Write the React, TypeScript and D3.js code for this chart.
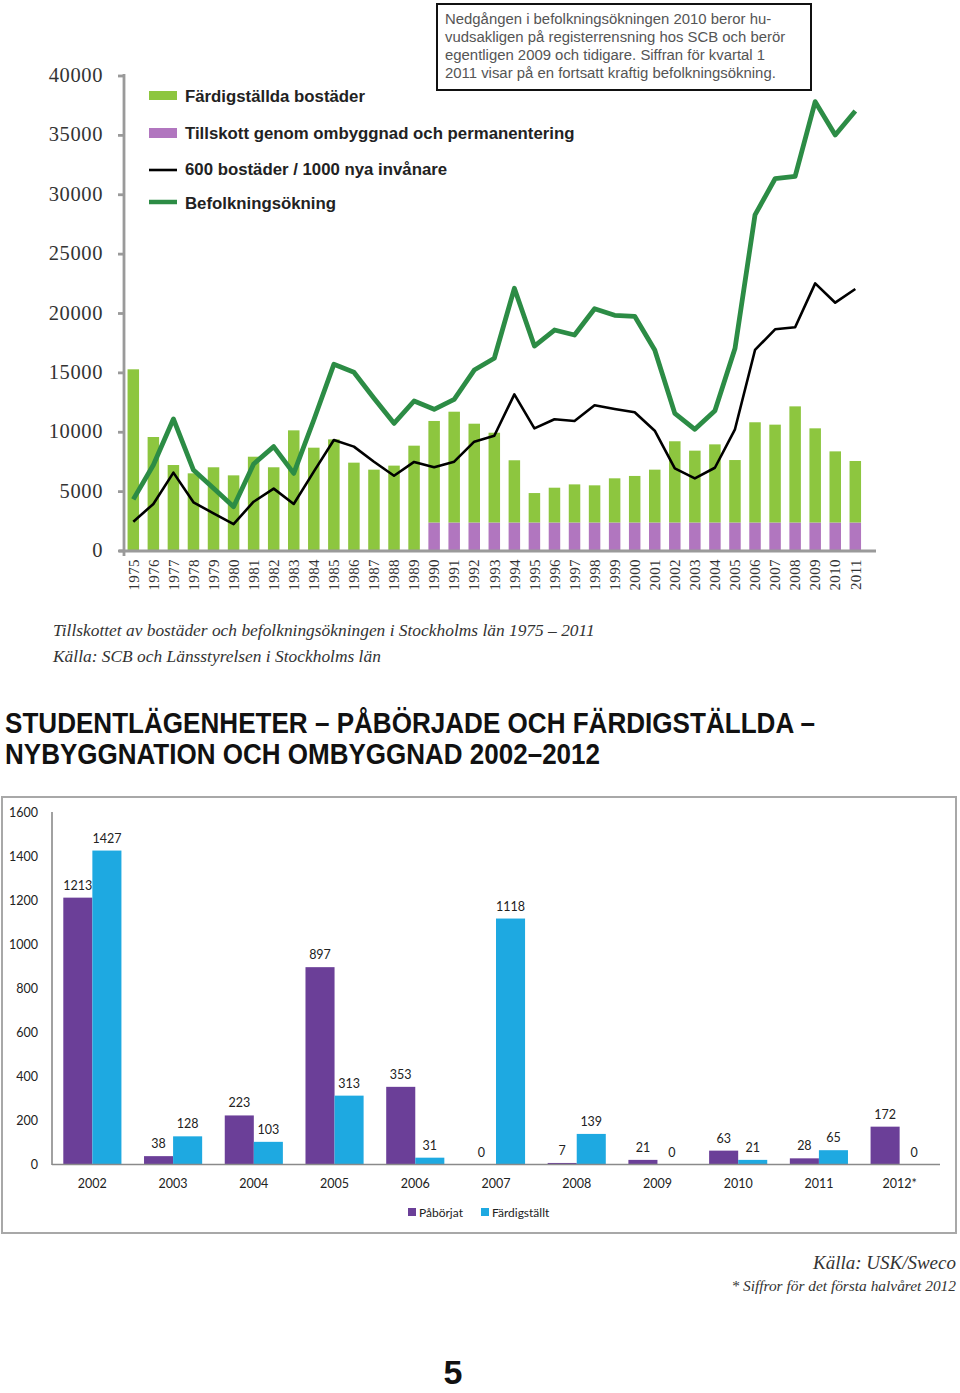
import React from 'react';
import * as d3 from 'd3';

// ---------- Top chart data ----------
const years = ['1975','1976','1977','1978','1979','1980','1981','1982','1983','1984','1985','1986','1987','1988','1989','1990','1991','1992','1993','1994','1995','1996','1997','1998','1999','2000','2001','2002','2003','2004','2005','2006','2007','2008','2009','2010','2011'];
const fardigstallda = [15300,9600,7240,6540,7050,6370,7940,7050,10160,8700,9400,7440,6850,7190,8870,8550,9330,8320,7560,5240,2480,2930,3210,3130,3720,3920,4450,6840,6050,6580,5260,8440,8240,9780,7930,5990,5180];
const tillskott = [0,0,0,0,0,0,0,0,0,0,0,0,0,0,0,2400,2400,2400,2400,2400,2400,2400,2400,2400,2400,2400,2400,2400,2400,2400,2400,2400,2400,2400,2400,2400,2400];
const bostaderPerInvanare = [2470,3960,6600,4100,3170,2270,4150,5250,3960,6680,9350,8790,7520,6340,7500,7050,7520,9210,9710,13190,10330,11090,10950,12270,11960,11680,10130,6960,6120,7010,10250,16930,18670,18840,22540,20910,22060];
const befolkningsokning = [4350,7240,11120,6820,5280,3730,7330,8790,6540,11030,15720,15050,12860,10750,12630,11930,12770,15240,16230,22120,17260,18610,18190,20400,19850,19760,16930,11590,10250,11820,17050,28300,31350,31550,37840,35030,37050];
const topTicks = [0,5000,10000,15000,20000,25000,30000,35000,40000];
const topLegend = ['Färdigställda bostäder','Tillskott genom ombyggnad och permanentering','600 bostäder / 1000 nya invånare','Befolkningsökning'];
const noteLines = [
  'Nedgången i befolkningsökningen 2010 beror hu-',
  'vudsakligen på registerrensning hos SCB och berör',
  'egentligen 2009 och tidigare. Siffran för kvartal 1',
  '2011 visar på en fortsatt kraftig befolkningsökning.',
];

// ---------- Bottom chart data ----------
const studYears = ['2002','2003','2004','2005','2006','2007','2008','2009','2010','2011','2012*'];
const paborjat = [1213,38,223,897,353,0,7,21,63,28,172];
const fardigstallt = [1427,128,103,313,31,1118,139,0,21,65,0];
const bottomTicks = [0,200,400,600,800,1000,1200,1400,1600];

const C = {
  green: '#8dc63f',
  purple: '#b176bf',
  popLine: '#2c8c45',
  axis: '#9a9a9a',
  pab: '#6b3f98',
  fard: '#1ea9e1',
};

export default function App() {
  const yTop = d3.scaleLinear().domain([0, 40000]).range([551, 76]);
  const xTop = d3.scalePoint<string>().domain(years).range([133.3, 855.3]);
  const barW = 11.5;

  const line = d3.line<number>()
    .x((_, i) => xTop(years[i]) as number)
    .y(d => yTop(d));

  const yB = d3.scaleLinear().domain([0, 1600]).range([1164.5, 812.5]);
  const xB = d3.scaleBand<string>().domain(studYears).range([52, 940]).paddingInner(0.28).paddingOuter(0.14);
  const xInner = d3.scaleBand<string>().domain(['p', 'f']).range([0, xB.bandwidth()]);

  const serif = '"Liberation Serif", "DejaVu Serif", serif';
  const sans = '"Liberation Sans", Arial, sans-serif';
  const cal = 'Lato, "Open Sans", sans-serif';

  return (
    <svg width={960} height={1393} style={{ position: 'absolute', left: 0, top: 0, display: 'block', background: '#fff' }}>
      <rect x={0} y={0} width={960} height={1393} fill="#fff" />

      {/* ===== Top chart ===== */}
      {years.map((y, i) => {
        const x = (xTop(y) as number) - barW / 2;
        const t = tillskott[i];
        const f = fardigstallda[i];
        return (
          <g key={y}>
            {t > 0 && <rect x={x} width={barW} y={yTop(t)} height={yTop(0) - yTop(t)} fill={C.purple} />}
            <rect x={x} width={barW} y={yTop(t + f)} height={yTop(t) - yTop(t + f)} fill={C.green} />
          </g>
        );
      })}

      {/* axes */}
      <line x1={124} x2={124} y1={74} y2={556} stroke={C.axis} strokeWidth={2.8} />
      <line x1={119} x2={876} y1={551} y2={551} stroke={C.axis} strokeWidth={2.8} />
      {topTicks.map(v => (
        <g key={v}>
          <line x1={118} x2={124} y1={yTop(v)} y2={yTop(v)} stroke={C.axis} strokeWidth={2.8} />
          <text x={103} y={yTop(v) + 6} textAnchor="end" fontFamily={serif} fontSize={20.5} letterSpacing={0.6} fill="#333"
            style={{ fontVariantNumeric: 'oldstyle-nums' }}>{v}</text>
        </g>
      ))}
      {years.map(y => (
        <text key={y} transform={`translate(${xTop(y)},559) rotate(-90)`} textAnchor="end" dy="0.35em"
          fontFamily={serif} fontSize={15} letterSpacing={0.4} fill="#333" style={{ fontVariantNumeric: 'oldstyle-nums' }}>{y}</text>
      ))}

      {/* lines */}
      <path d={line(bostaderPerInvanare) || ''} fill="none" stroke="#000" strokeWidth={2.6} strokeLinejoin="round" />
      <path d={line(befolkningsokning) || ''} fill="none" stroke={C.popLine} strokeWidth={4.8} strokeLinejoin="round" />

      {/* legend */}
      <rect x={149} y={91} width={28} height={9} fill={C.green} />
      <rect x={149} y={128} width={28} height={10} fill={C.purple} />
      <line x1={149} x2={177} y1={170} y2={170} stroke="#000" strokeWidth={2.6} />
      <line x1={149} x2={177} y1={202} y2={202} stroke={C.popLine} strokeWidth={4.5} />
      {topLegend.map((t, i) => (
        <text key={t} x={185} y={[102, 139, 175, 209][i]} fontFamily={sans} fontWeight="bold" fontSize={16.8} fill="#222">{t}</text>
      ))}

      {/* note box */}
      <rect x={437} y={4} width={374} height={86} fill="#fff" stroke="#111" strokeWidth={2} />
      {noteLines.map((t, i) => (
        <text key={i} x={445} y={24 + i * 18} fontFamily={sans} fontSize={14.9} fill="#555">{t}</text>
      ))}

      {/* captions */}
      <text x={53} y={636} fontFamily={serif} fontStyle="italic" fontSize={17.4} fill="#333">Tillskottet av bostäder och befolkningsökningen i Stockholms län 1975 – 2011</text>
      <text x={53} y={662} fontFamily={serif} fontStyle="italic" fontSize={17.4} fill="#333">Källa: SCB och Länsstyrelsen i Stockholms län</text>

      {/* heading */}
      <text x={5} y={733} fontFamily='"Liberation Sans Narrow", "Liberation Sans", Arial, sans-serif' fontWeight="bold" fontSize={29} fill="#111"
        textLength={810} lengthAdjust="spacingAndGlyphs">STUDENTLÄGENHETER – PÅBÖRJADE OCH FÄRDIGSTÄLLDA –</text>
      <text x={5} y={764} fontFamily='"Liberation Sans Narrow", "Liberation Sans", Arial, sans-serif' fontWeight="bold" fontSize={29} fill="#111"
        textLength={595} lengthAdjust="spacingAndGlyphs">NYBYGGNATION OCH OMBYGGNAD 2002–2012</text>

      {/* ===== Bottom chart ===== */}
      <rect x={2} y={797} width={954} height={436} fill="#fff" stroke="#a8a8a8" strokeWidth={2} />
      {bottomTicks.map(v => (
        <text key={v} x={38} y={yB(v) + 4.5} textAnchor="end" fontFamily={cal} fontSize={12.5} fill="#222">{v}</text>
      ))}
      {studYears.map((yr, i) => {
        const gx = xB(yr) as number;
        const items = [
          { k: 'p', v: paborjat[i], c: C.pab },
          { k: 'f', v: fardigstallt[i], c: C.fard },
        ];
        return (
          <g key={yr}>
            {items.map(it => {
              const bx = gx + (xInner(it.k) as number);
              const bw = xInner.bandwidth();
              return (
                <g key={it.k}>
                  {it.v > 0 && <rect x={bx} width={bw} y={yB(it.v)} height={yB(0) - yB(it.v)} fill={it.c} />}
                  <text x={bx + bw / 2} y={yB(it.v) - 8} textAnchor="middle" fontFamily={cal} fontSize={12.5} fill="#222">{it.v}</text>
                </g>
              );
            })}
            <text x={gx + xB.bandwidth() / 2} y={1188} textAnchor="middle" fontFamily={cal} fontSize={12.5} fill="#222">{yr}</text>
          </g>
        );
      })}
      <line x1={52} x2={52} y1={812} y2={1165} stroke="#8a8a8a" strokeWidth={1.6} />
      <line x1={52} x2={940} y1={1164.5} y2={1164.5} stroke="#8a8a8a" strokeWidth={1.6} />

      {/* bottom legend */}
      <rect x={408} y={1208} width={8} height={8} fill={C.pab} />
      <text x={419} y={1217} fontFamily={cal} fontSize={12} fill="#222">Påbörjat</text>
      <rect x={481} y={1208} width={8} height={8} fill={C.fard} />
      <text x={492} y={1217} fontFamily={cal} fontSize={12} fill="#222">Färdigställt</text>

      {/* footnotes */}
      <text x={956} y={1269} textAnchor="end" fontFamily={serif} fontStyle="italic" fontSize={19} fill="#333">Källa: USK/Sweco</text>
      <text x={956} y={1291} textAnchor="end" fontFamily={serif} fontStyle="italic" fontSize={15.4} fill="#333">* Siffror för det första halvåret 2012</text>

      <text x={453} y={1384} textAnchor="middle" fontFamily={sans} fontWeight="bold" fontSize={34} fill="#111">5</text>
    </svg>
  );
}
